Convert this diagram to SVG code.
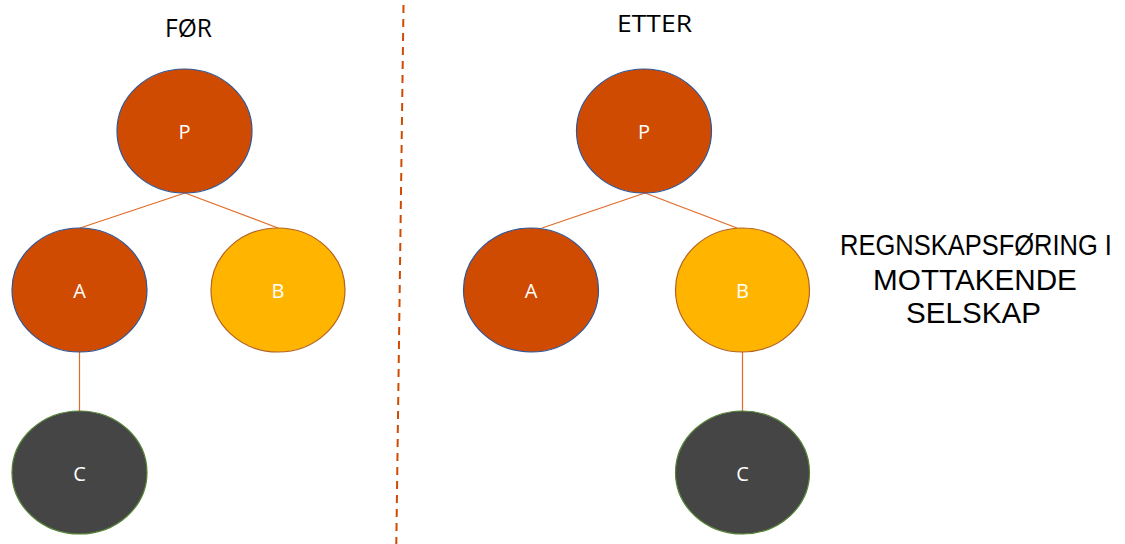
<svg xmlns="http://www.w3.org/2000/svg" width="1125" height="544" viewBox="0 0 1125 544">
  <style>
    .lbl { font-family: "Open Sans", "Noto Sans", "Liberation Sans", sans-serif; font-size: 20px; fill: #ffffff; text-anchor: middle; }
    .ttl { font-family: "Open Sans", "Noto Sans", "Liberation Sans", sans-serif; fill: #000000; text-anchor: middle; }
    .cap { font-family: "Liberation Sans", Arial, sans-serif; font-size: 29px; fill: #000000; text-anchor: middle; }
    .orange { fill: #D04B02; stroke: #2F5597; stroke-width: 1.2; }
    .yellow { fill: #FFB400; stroke: #B4631E; stroke-width: 1.2; }
    .dark { fill: #454545; stroke: #548235; stroke-width: 1.2; }
    .edge { stroke: #E06A26; stroke-width: 1.2; fill: none; }
    .divider { stroke: #D04B02; stroke-width: 2; stroke-dasharray: 8 6; fill: none; }
  </style>
  <rect width="1125" height="544" fill="#ffffff"/>

  <!-- headings -->
  <text class="ttl" x="188.5" y="37" font-size="25" textLength="47" lengthAdjust="spacingAndGlyphs">FØR</text>
  <text class="ttl" x="654.5" y="32" font-size="24" textLength="75" lengthAdjust="spacingAndGlyphs">ETTER</text>
  <!-- caption lines, each narrowed/widened about its own centre -->
  <g id="caption">
    <text class="cap" transform="translate(976 255) scale(0.879 1)">REGNSKAPSFØRING I</text>
    <text class="cap" transform="translate(975 290) scale(1.023 1)">MOTTAKENDE</text>
    <text class="cap" transform="translate(973.5 323) scale(1.021 1)">SELSKAP</text>
  </g>

  <!-- dashed separator -->
  <line class="divider" x1="403.5" y1="5" x2="396.3" y2="544"/>

  <!-- connectors -->
  <g id="connectors">
    <line class="edge" x1="185" y1="193" x2="80" y2="228"/>
    <line class="edge" x1="185" y1="193" x2="278" y2="228"/>
    <line class="edge" x1="79.5" y1="352" x2="79.5" y2="411"/>
    <line class="edge" x1="645" y1="193" x2="542" y2="228"/>
    <line class="edge" x1="645" y1="193" x2="737" y2="228"/>
    <line class="edge" x1="742.5" y1="352" x2="742.5" y2="411"/>
  </g>

  <!-- before -->
  <g id="before-P">
    <ellipse class="orange" cx="184.5" cy="131" rx="67.5" ry="62"/>
    <text class="lbl" x="184.5" y="139">P</text>
  </g>
  <g id="before-A">
    <ellipse class="orange" cx="79.5" cy="290" rx="67.5" ry="62"/>
    <text class="lbl" x="79.5" y="298">A</text>
  </g>
  <g id="before-B">
    <ellipse class="yellow" cx="278" cy="290" rx="67" ry="62"/>
    <text class="lbl" x="278" y="298">B</text>
  </g>
  <g id="before-C">
    <ellipse class="dark" cx="79.5" cy="472.5" rx="67.5" ry="61.5"/>
    <text class="lbl" x="79.5" y="481">C</text>
  </g>

  <!-- after -->
  <g id="after-P">
    <ellipse class="orange" cx="644" cy="131" rx="67.5" ry="62"/>
    <text class="lbl" x="644" y="139">P</text>
  </g>
  <g id="after-A">
    <ellipse class="orange" cx="531" cy="290" rx="67.5" ry="62"/>
    <text class="lbl" x="531" y="298">A</text>
  </g>
  <g id="after-B">
    <ellipse class="yellow" cx="742.5" cy="290" rx="67" ry="62"/>
    <text class="lbl" x="742.5" y="298">B</text>
  </g>
  <g id="after-C">
    <ellipse class="dark" cx="742.5" cy="472.5" rx="67" ry="61.5"/>
    <text class="lbl" x="742.5" y="481">C</text>
  </g>
</svg>
